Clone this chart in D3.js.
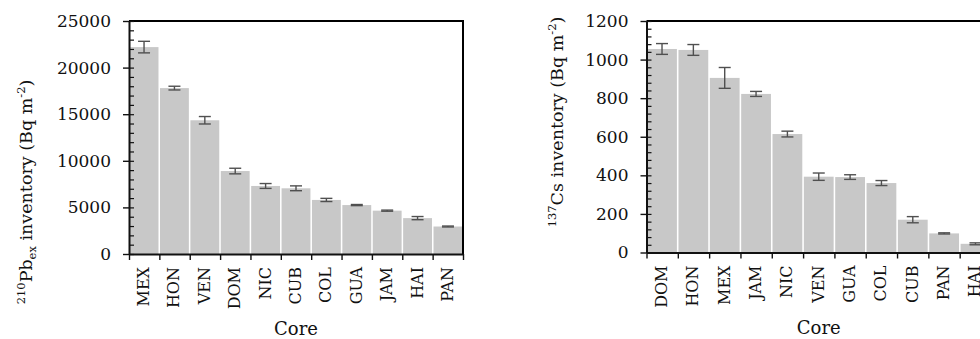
<!DOCTYPE html>
<html>
<head>
<meta charset="utf-8">
<script src="https://cdn.jsdelivr.net/npm/d3@7"></script>
<style>
  html, body { margin: 0; padding: 0; background: #fff; overflow: hidden; }
  svg { display: block; font-family: "DejaVu Serif", serif; }
  .axis path, .axis line { stroke: #111; }
  .axis text { fill: #111; }
</style>
</head>
<body>
<svg id="chart" width="980" height="339"></svg>
<script>
// 210Pb_ex inventory by core
const pbCores = ["MEX", "HON", "VEN", "DOM", "NIC", "CUB", "COL", "GUA", "JAM", "HAI", "PAN"];
const pbValues = [22200, 17800, 14350, 8900, 7300, 7050, 5800, 5250, 4650, 3850, 2950];
const pbErrors = [620, 200, 400, 300, 260, 260, 170, 60, 60, 170, 50];
const pbTicks = [0, 5000, 10000, 15000, 20000, 25000];

// 137Cs inventory by core
const csCores = ["DOM", "HON", "MEX", "JAM", "NIC", "VEN", "GUA", "COL", "CUB", "PAN", "HAI"];
const csValues = [1055, 1050, 905, 822, 614, 393, 391, 360, 170, 99, 45];
const csErrors = [28, 28, 54, 13, 15, 19, 12, 13, 16, 3, 5];
const csTicks = [0, 200, 400, 600, 800, 1000, 1200];

const svg = d3.select("#chart");

function drawPanel(opts) {
  const {left, top, width, height, cores, values, errors, ticks, minorStep, label, labelX, labelY} = opts;
  const max = ticks[ticks.length - 1];

  const g = svg.append("g").attr("transform", `translate(${left},${top})`);

  const x = d3.scaleBand().domain(cores).range([0, width]).paddingInner(0.05).paddingOuter(0.02);
  const xEdge = d3.scaleLinear().domain([0, cores.length]).range([0, width]);
  const y = d3.scaleLinear().domain([0, max]).range([height, 0]);

  // bars
  g.selectAll("rect.bar")
    .data(cores)
    .join("rect")
    .attr("class", "bar")
    .attr("x", d => x(d))
    .attr("width", x.bandwidth())
    .attr("y", (d, i) => y(values[i]))
    .attr("height", (d, i) => height - y(values[i]))
    .attr("fill", "#c8c8c8");

  // error bars
  const eb = g.selectAll("g.err")
    .data(cores)
    .join("g")
    .attr("class", "err")
    .attr("stroke", "#505050")
    .attr("stroke-width", 1.4);
  const cx = d => x(d) + x.bandwidth() / 2;
  eb.append("line")
    .attr("x1", cx).attr("x2", cx)
    .attr("y1", (d, i) => y(values[i] - errors[i]))
    .attr("y2", (d, i) => y(values[i] + errors[i]));
  eb.append("line")
    .attr("x1", d => cx(d) - 6).attr("x2", d => cx(d) + 6)
    .attr("y1", (d, i) => y(values[i] + errors[i]))
    .attr("y2", (d, i) => y(values[i] + errors[i]));
  eb.append("line")
    .attr("x1", d => cx(d) - 6).attr("x2", d => cx(d) + 6)
    .attr("y1", (d, i) => y(values[i] - errors[i]))
    .attr("y2", (d, i) => y(values[i] - errors[i]));

  // frame (top and right)
  g.append("path")
    .attr("d", `M0,0H${width}V${height}`)
    .attr("fill", "none")
    .attr("stroke", "#000")
    .attr("stroke-width", 2);

  // minor ticks inside
  g.append("g")
    .attr("class", "axis")
    .call(d3.axisRight(y).tickValues(d3.range(0, max + 1, minorStep)).tickSize(5).tickFormat(""))
    .call(a => a.select(".domain").remove())
    .selectAll("line").attr("stroke-width", 1.2);

  // major ticks + labels
  g.append("g")
    .attr("class", "axis")
    .call(d3.axisLeft(y).tickValues(ticks).tickFormat(d3.format("d")).tickSizeInner(6).tickSizeOuter(0).tickPadding(12))
    .call(a => a.select(".domain").attr("stroke-width", 2))
    .call(a => a.selectAll("line").attr("stroke-width", 1.4))
    .call(a => a.selectAll("text").attr("font-size", 17).attr("font-family", "DejaVu Serif"));

  // x axis: ticks at band edges
  g.append("g")
    .attr("class", "axis")
    .attr("transform", `translate(0,${height})`)
    .call(d3.axisBottom(xEdge).tickValues(d3.range(cores.length + 1)).tickSizeInner(6).tickSizeOuter(0).tickFormat(""))
    .call(a => a.select(".domain").attr("stroke-width", 2))
    .call(a => a.selectAll("line").attr("stroke-width", 1.4));

  // x labels
  g.append("g")
    .attr("class", "axis")
    .attr("transform", `translate(0,${height})`)
    .call(d3.axisBottom(x).tickSize(0).tickPadding(0))
    .call(a => a.select(".domain").remove())
    .selectAll("text")
    .attr("font-size", 16)
    .attr("font-family", "DejaVu Serif")
    .attr("text-anchor", "end")
    .attr("dy", null)
    .attr("transform", "translate(5,13) rotate(-90)");

  // x title
  g.append("text")
    .attr("x", width / 2)
    .attr("y", height + 81)
    .attr("text-anchor", "middle")
    .attr("font-size", 18)
    .attr("fill", "#111")
    .text("Core");

  // y title (super/subscripts via dy shifts)
  const t = svg.append("text")
    .attr("transform", `translate(${labelX},${labelY}) rotate(-90)`)
    .attr("text-anchor", "middle")
    .attr("font-size", 17.5)
    .attr("fill", "#111");
  let shift = 0;
  label.forEach(p => {
    const target = p.s === "sup" ? -7 : p.s === "sub" ? 4 : 0;
    const ts = t.append("tspan").attr("dy", target - shift).text(p.t);
    shift = target;
    if (p.s) ts.attr("font-size", 11.5);
  });
}

drawPanel({
  left: 129, top: 21, width: 334, height: 233,
  cores: pbCores, values: pbValues, errors: pbErrors, ticks: pbTicks, minorStep: 1000,
  label: [{t: "210", s: "sup"}, {t: "Pb"}, {t: "ex", s: "sub"}, {t: " inventory (Bq m"}, {t: "-2", s: "sup"}, {t: ")"}],
  labelX: 32, labelY: 192
});

drawPanel({
  left: 646.5, top: 21, width: 344.5, height: 231.5,
  cores: csCores, values: csValues, errors: csErrors, ticks: csTicks, minorStep: 40,
  label: [{t: "137", s: "sup"}, {t: "Cs inventory (Bq m"}, {t: "-2", s: "sup"}, {t: ")"}],
  labelX: 563, labelY: 122
});
</script>
</body>
</html>
